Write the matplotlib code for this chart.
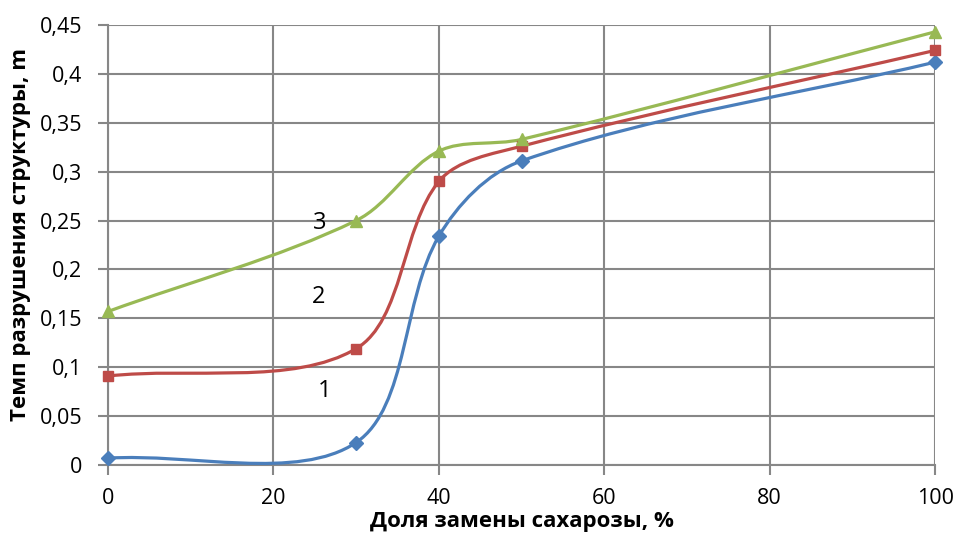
import matplotlib
matplotlib.use('Agg')
import numpy as np
import matplotlib.pyplot as plt
from matplotlib.path import Path
from matplotlib.patches import PathPatch
from matplotlib.ticker import FuncFormatter

plt.rcParams['font.family'] = ['Open Sans', 'DejaVu Sans']

x = [0, 30, 40, 50, 100]
s1 = [0.007, 0.023, 0.234, 0.311, 0.412]
s2 = [0.091, 0.119, 0.290, 0.326, 0.424]
s3 = [0.157, 0.250, 0.321, 0.333, 0.443]
labels = ['1', '2', '3']
label_pos = [(26.2, 0.076), (25.4, 0.172), (25.6, 0.248)]

colors = ['#4A7EBB', '#BE4B48', '#98B954']
markers = ['D', 's', '^']
msizes = [7.5, 7.5, 8.5]


def smooth_path(ax, xs, ys):
    # smoothed line like Excel: Bezier segments, tangents worked out in screen space
    pts = ax.transData.transform(np.column_stack([xs, ys]))
    n = len(pts)
    out_c = [None] * n
    in_c = [None] * n
    for i in range(n):
        p_prev = pts[i - 1] if i > 0 else pts[i]
        p_next = pts[i + 1] if i < n - 1 else pts[i]
        d1 = np.hypot(*(pts[i] - p_prev))
        d2 = np.hypot(*(p_next - pts[i]))
        tan = p_next - p_prev
        tot = d1 + d2
        in_c[i] = pts[i] - tan * (d1 / tot) / 3
        out_c[i] = pts[i] + tan * (d2 / tot) / 3
    verts = [pts[0]]
    codes = [Path.MOVETO]
    for i in range(n - 1):
        verts += [out_c[i], in_c[i + 1], pts[i + 1]]
        codes += [Path.CURVE4] * 3
    verts = ax.transData.inverted().transform(np.array(verts))
    return Path(verts, codes)


fig = plt.figure(figsize=(9.61, 5.34), dpi=100)
ax = fig.add_axes([0.1124, 0.1292, 0.8606, 0.824])
ax.set_xlim(0, 100)
ax.set_ylim(0, 0.45)

for ys, c, m, ms in zip([s1, s2, s3], colors, markers, msizes):
    ax.add_patch(PathPatch(smooth_path(ax, x, ys), facecolor='none', edgecolor=c,
                           lw=2.3, zorder=3, clip_on=False))
    ax.plot(x, ys, linestyle='none', marker=m, color=c, markersize=ms, zorder=4,
            clip_on=False)

for lab, (lx, ly) in zip(labels, label_pos):
    ax.text(lx, ly, lab, fontsize=17, ha='center', va='center', zorder=5)

ax.set_xticks(range(0, 101, 20))
ax.set_yticks([i * 0.05 for i in range(10)])
ax.yaxis.set_major_formatter(FuncFormatter(lambda v, p: ('%g' % round(v, 2)).replace('.', ',')))
ax.grid(True, color='#878787', lw=1.5)
ax.set_axisbelow(True)
for sp in ['top', 'right']:
    ax.spines[sp].set_visible(False)
for sp in ['left', 'bottom']:
    ax.spines[sp].set_color('#878787')
    ax.spines[sp].set_linewidth(1.5)
ax.tick_params(axis='both', colors='#878787', length=7.5, width=1.5, labelsize=15.5,
               labelcolor='black')
ax.tick_params(axis='x', pad=9)
ax.tick_params(axis='y', pad=11)
ax.set_xlabel('Доля замены сахарозы, %', fontsize=16, fontweight='bold', va='center')
ax.xaxis.set_label_coords(0.5, -0.1295)
ax.set_ylabel('Темп разрушения структуры, m', fontsize=16, fontweight='bold', va='center')
ax.yaxis.set_label_coords(-0.1064, 0.523)

fig.savefig('out.png', dpi=100)
